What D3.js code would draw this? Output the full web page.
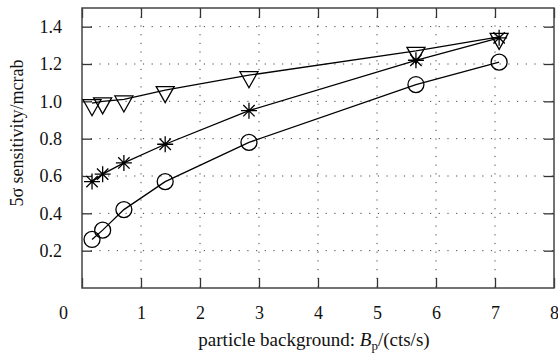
<!DOCTYPE html>
<html>
<head>
<meta charset="utf-8">
<script src="https://cdn.jsdelivr.net/npm/d3@7"></script>
<style>
  body { margin: 0; background: #fff; }
  svg { display: block; }
</style>
</head>
<body>
<div id="chart"></div>
<script>
// values
const background = [0.17, 0.35, 0.71, 1.41, 2.83, 5.66, 7.07];
const circleSeries = [0.26, 0.31, 0.42, 0.57, 0.78, 1.09, 1.21];
const starSeries = [0.57, 0.61, 0.67, 0.77, 0.95, 1.22, 1.34];
const triangleSeries = [0.99, 1.00, 1.01, 1.06, 1.14, 1.27, 1.345];
const xTicks = [0, 1, 2, 3, 4, 5, 6, 7, 8];
const yTicks = [0.2, 0.4, 0.6, 0.8, 1.0, 1.2, 1.4];

const width = 558, height = 356;
const margin = { top: 8, right: 4, bottom: 68, left: 82 };
const plotW = width - margin.left - margin.right;
const plotH = height - margin.top - margin.bottom;
const serif = "'Liberation Serif', 'Times New Roman', 'DejaVu Serif', serif";

const svg = d3.select("#chart")
  .append("svg")
  .attr("width", width)
  .attr("height", height);

const g = svg.append("g")
  .attr("transform", `translate(${margin.left},${margin.top})`);

const x = d3.scaleLinear().domain([0, 8]).range([0, plotW]);
const y = d3.scaleLinear().domain([0, 1.5]).range([plotH, 0]);

// dotted grid
g.selectAll(".gx")
  .data(xTicks.slice(1, -1))
  .enter()
  .append("line")
  .attr("x1", d => x(d)).attr("x2", d => x(d))
  .attr("y1", 0).attr("y2", plotH)
  .attr("stroke", "#444")
  .attr("stroke-width", 1)
  .attr("stroke-dasharray", "1.2,7.5");

g.selectAll(".gy")
  .data(yTicks)
  .enter()
  .append("line")
  .attr("x1", 0).attr("x2", plotW)
  .attr("y1", d => y(d)).attr("y2", d => y(d))
  .attr("stroke", "#444")
  .attr("stroke-width", 1)
  .attr("stroke-dasharray", "1.2,7.5");

// axes with inward ticks
const tickLen = 10;
const xAxis = g.append("g")
  .attr("transform", `translate(0,${plotH})`)
  .call(d3.axisBottom(x).tickValues(xTicks).tickSize(-tickLen).tickPadding(18).tickFormat(d3.format("d")));
xAxis.selectAll("text")
  .attr("dx", d => d === 0 ? -19 : 0);

const yAxis = g.append("g")
  .call(d3.axisLeft(y).tickValues(yTicks).tickSize(-tickLen).tickPadding(20).tickFormat(d3.format(".1f")));

g.append("g")
  .call(d3.axisTop(x).tickValues(xTicks).tickSize(-tickLen).tickFormat(""));
g.append("g")
  .attr("transform", `translate(${plotW},0)`)
  .call(d3.axisRight(y).tickValues(yTicks).tickSize(-tickLen).tickFormat(""));

svg.selectAll(".domain").remove();
svg.selectAll(".tick line").attr("stroke", "#333").attr("stroke-width", 1.3);

g.append("rect")
  .attr("width", plotW).attr("height", plotH)
  .attr("fill", "none")
  .attr("stroke", "#444")
  .attr("stroke-width", 1.5);

// series lines
const line = d3.line()
  .x(d => x(d[0]))
  .y(d => y(d[1]));

const series = [
  { name: "triangle", values: triangleSeries },
  { name: "star", values: starSeries },
  { name: "circle", values: circleSeries }
];

series.forEach(s => {
  const pts = background.map((b, i) => [b, s.values[i]]);
  g.append("path")
    .datum(pts)
    .attr("d", line)
    .attr("fill", "none")
    .attr("stroke", "#000")
    .attr("stroke-width", 1.3);

  const marks = g.selectAll(".m-" + s.name)
    .data(pts)
    .enter()
    .append("g")
    .attr("transform", d => `translate(${x(d[0])},${y(d[1])})`);

  if (s.name === "circle") {
    marks.append("circle")
      .attr("r", 8)
      .attr("fill", "none")
      .attr("stroke", "#000")
      .attr("stroke-width", 1.3);
  } else if (s.name === "triangle") {
    marks.append("path")
      .attr("d", "M-9,-3.5 L9,-3.5 L0,12.5 Z")
      .attr("fill", "none")
      .attr("stroke", "#000")
      .attr("stroke-width", 1.3);
  } else {
    marks.append("path")
      .attr("d", "M-8,0 L8,0 M0,-8 L0,8 M-5.7,-5.7 L5.7,5.7 M-5.7,5.7 L5.7,-5.7")
      .attr("fill", "none")
      .attr("stroke", "#000")
      .attr("stroke-width", 1.3);
  }
});

// axis titles
const xTitle = svg.append("text")
  .attr("x", 314)
  .attr("y", 346)
  .attr("text-anchor", "middle")
  .style("font-size", "19px");
xTitle.append("tspan").text("particle background: ");
xTitle.append("tspan").attr("font-style", "italic").text("B");
xTitle.append("tspan").attr("dy", 4).style("font-size", "13px").text("p");
xTitle.append("tspan").attr("dy", -4).text("/(cts/s)");

svg.append("text")
  .attr("transform", "translate(23,133) rotate(-90)")
  .attr("text-anchor", "middle")
  .style("font-size", "18px")
  .text("5σ sensitivity/mcrab");

// one font for every label, ticks included
svg.selectAll("text")
  .style("font-family", serif)
  .style("fill", "#111");
svg.selectAll(".tick text").style("font-size", "18px");
</script>
</body>
</html>
